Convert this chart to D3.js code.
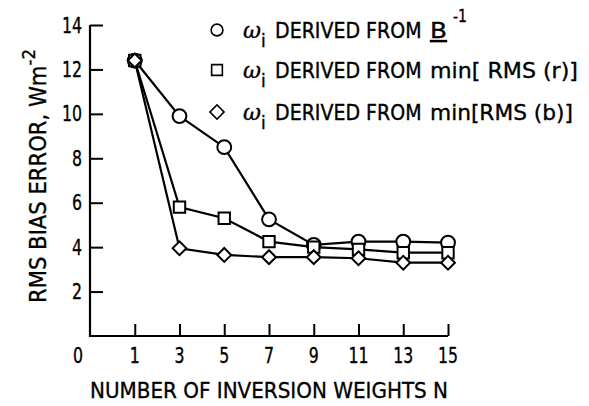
<!DOCTYPE html>
<html>
<head>
<meta charset="utf-8">
<script src="https://cdn.jsdelivr.net/npm/d3@7"></script>
<style>
  body { margin: 0; background: #fff; }
  svg text { font-family: "DejaVu Sans", sans-serif; fill: #000; stroke: #000; stroke-width: 0.35px; }
</style>
</head>
<body>
<div id="chart"></div>
<script>
var svgWidth = 589;
var svgHeight = 406;

// data
var weightsN = [1, 3, 5, 7, 9, 11, 13, 15];
var fromBInverse = [12.4, 9.9, 8.5, 5.25, 4.1, 4.25, 4.25, 4.2];
var fromMinRmsR = [12.4, 5.8, 5.3, 4.25, 4.0, 3.9, 3.75, 3.75];
var fromMinRmsB = [12.4, 3.95, 3.65, 3.55, 3.55, 3.5, 3.3, 3.3];
var yTicks = [2, 4, 6, 8, 10, 12, 14];
var xTicks = [1, 3, 5, 7, 9, 11, 13, 15];
var legendTails = ["B", "min[ RMS (r)]", "min[RMS (b)]"];

// the original lettering is tall and narrow, squeeze DejaVu sideways
var squeeze = 0.75;

var svg = d3.select("#chart")
  .append("svg")
  .attr("width", svgWidth)
  .attr("height", svgHeight);

var xScale = d3.scaleLinear().domain([-1, 15]).range([90, 448]);
var yScale = d3.scaleLinear().domain([0, 14]).range([336, 25]);

// y axis, ticks pointing into the plot
var yAxis = d3.axisRight(yScale)
  .tickValues(yTicks)
  .tickSize(13)
  .tickFormat("");
var yAxisG = svg.append("g")
  .attr("transform", `translate(${xScale(-1)},0)`)
  .call(yAxis);
yAxisG.select(".domain").remove();

// x axis, ticks pointing up
var xAxis = d3.axisTop(xScale)
  .tickValues(xTicks)
  .tickSize(12)
  .tickFormat("");
var xAxisG = svg.append("g")
  .attr("transform", `translate(0,${yScale(0)})`)
  .call(xAxis);
xAxisG.select(".domain").remove();

svg.selectAll(".tick line").attr("stroke", "#000").attr("stroke-width", 2);

// axis lines
svg.append("path")
  .attr("d", `M${xScale(-1)},${yScale(14)}V${yScale(0)}H${xScale(15)}`)
  .attr("fill", "none")
  .attr("stroke", "#000")
  .attr("stroke-width", 2.2);

// tick labels
svg.append("g").selectAll("text")
  .data(yTicks)
  .enter().append("text")
  .attr("transform", d => `translate(82,${yScale(d)}) scale(${squeeze},1)`)
  .attr("dy", "0.36em")
  .attr("text-anchor", "end")
  .style("font-size", "21px")
  .text(d => d);

svg.append("g").selectAll("text")
  .data(xTicks)
  .enter().append("text")
  .attr("transform", d => `translate(${xScale(d)},363) scale(${squeeze},1)`)
  .attr("text-anchor", "middle")
  .style("font-size", "21px")
  .text(d => d);

svg.append("text")
  .attr("transform", `translate(78,363) scale(${squeeze},1)`)
  .attr("text-anchor", "middle")
  .style("font-size", "21px")
  .text("0");

// axis titles
svg.append("text")
  .attr("x", (xScale(-1) + xScale(15)) / 2)
  .attr("y", 398)
  .attr("text-anchor", "middle")
  .attr("textLength", 358)
  .attr("lengthAdjust", "spacingAndGlyphs")
  .style("font-size", "22px")
  .text("NUMBER OF INVERSION WEIGHTS N");

var yTitle = svg.append("text")
  .attr("transform", "translate(46,176) rotate(-90) scale(0.92,1)")
  .attr("text-anchor", "middle")
  .style("font-size", "23px");
yTitle.append("tspan").text("RMS BIAS ERROR, Wm");
yTitle.append("tspan").attr("dy", -11).style("font-size", "18px").text("-2");

// series
var series = [
  { name: "binv", values: fromBInverse, shape: d3.symbolCircle, size: 150, rot: 0 },
  { name: "rmsr", values: fromMinRmsR, shape: d3.symbolSquare, size: 130, rot: 0 },
  { name: "rmsb", values: fromMinRmsB, shape: d3.symbolSquare, size: 95, rot: 45 }
];

var line = d3.line()
  .x((d, i) => xScale(weightsN[i]))
  .y(d => yScale(d));

series.forEach(function(s) {
  svg.append("path")
    .datum(s.values)
    .attr("d", line)
    .attr("fill", "none")
    .attr("stroke", "#000")
    .attr("stroke-width", 2.2);
});

series.forEach(function(s) {
  svg.append("g").selectAll("path")
    .data(s.values)
    .enter().append("path")
    .attr("transform", (d, i) => `translate(${xScale(weightsN[i])},${yScale(d)}) rotate(${s.rot})`)
    .attr("d", d3.symbol().type(s.shape).size(s.size))
    .attr("fill", "#fff")
    .attr("stroke", "#000")
    .attr("stroke-width", 2);
});

// legend
var legendRows = [
  { shape: d3.symbolCircle, size: 110, rot: 0, y: 30, tailLen: 17 },
  { shape: d3.symbolSquare, size: 115, rot: 0, y: 70, tailLen: 148 },
  { shape: d3.symbolSquare, size: 100, rot: 45, y: 112, tailLen: 143 }
];

var legend = svg.append("g");
legendRows.forEach(function(r, k) {
  var base = r.y + 8;
  legend.append("path")
    .attr("transform", `translate(217,${r.y}) rotate(${r.rot})`)
    .attr("d", d3.symbol().type(r.shape).size(r.size))
    .attr("fill", "#fff")
    .attr("stroke", "#000")
    .attr("stroke-width", 1.6);

  legend.append("text")
    .attr("x", 243).attr("y", base)
    .style("font-size", "22px")
    .style("font-style", "italic")
    .style("font-family", "DejaVu Serif")
    .text("\u03c9");
  legend.append("text")
    .attr("x", 261).attr("y", base + 9)
    .style("font-size", "17px")
    .text("i");
  // 19px glyphs stretched upward to the taller original lettering
  legend.append("text")
    .attr("transform", `translate(275,${base}) scale(1,1.1)`)
    .style("font-size", "19px")
    .text("DERIVED FROM");
  var tail = legend.append("text")
    .attr("x", 430).attr("y", base)
    .attr("textLength", r.tailLen)
    .attr("lengthAdjust", "spacingAndGlyphs")
    .style("font-size", "21px")
    .text(legendTails[k]);
  if (k === 0) {
    tail.style("text-decoration", "underline");
    legend.append("text")
      .attr("x", 453).attr("y", base - 16)
      .attr("textLength", 14)
      .attr("lengthAdjust", "spacingAndGlyphs")
      .style("font-size", "17px")
      .text("-1");
  }
});
</script>
</body>
</html>
